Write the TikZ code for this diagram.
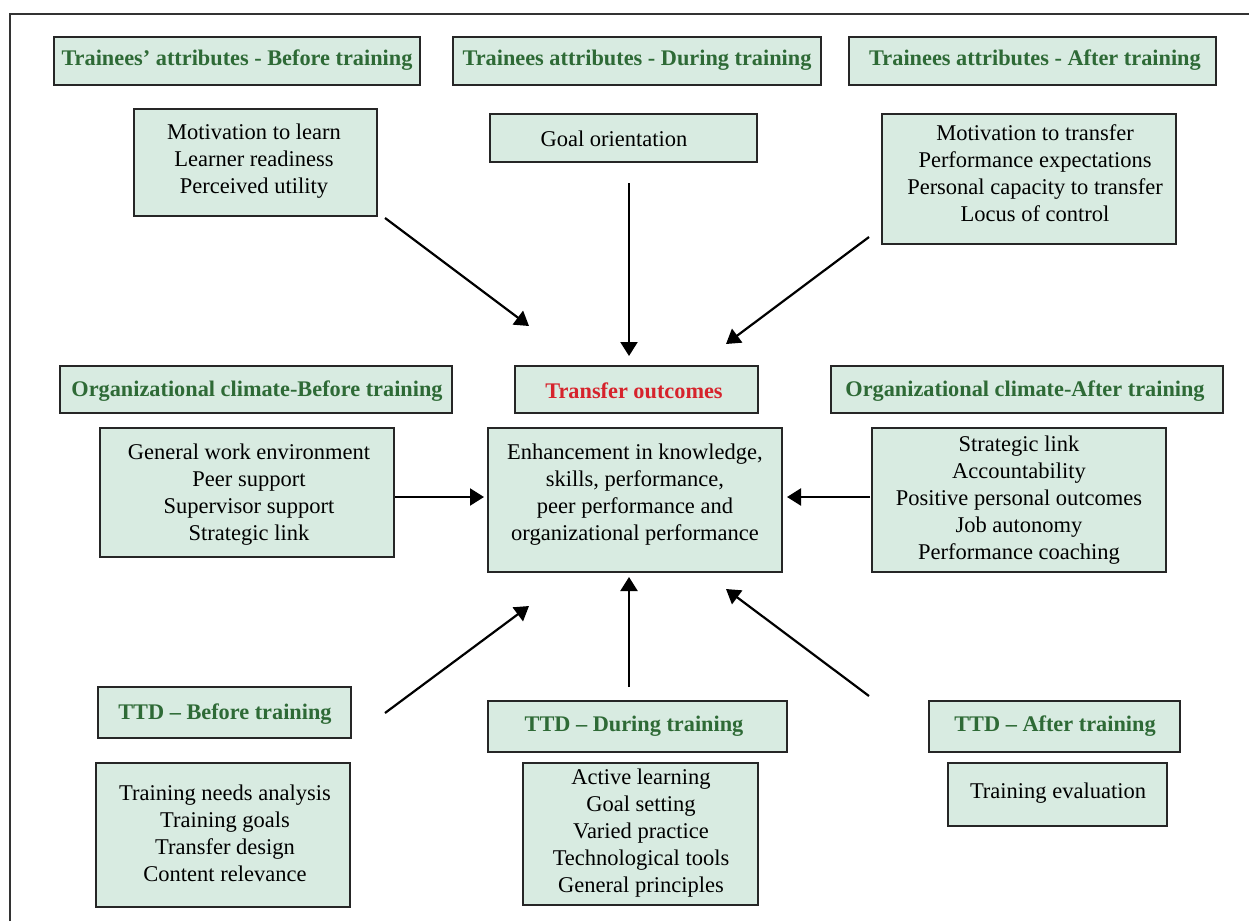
\documentclass[tikz,border=0pt]{standalone}
\usepackage{fontspec}
\setmainfont{Liberation Serif}
\usetikzlibrary{arrows.meta,calc}
\definecolor{boxfill}{HTML}{D8EBE1}
\definecolor{headgreen}{HTML}{2E6A36}
\definecolor{headred}{HTML}{D6232C}

\tikzset{
  panel/.style={draw=black!85, line width=1.3pt, fill=boxfill, inner sep=0pt},
  body/.style={align=center, font=\fontsize{22.5}{27}\selectfont, inner sep=0pt},
  head/.style={align=center, font=\fontsize{22.3}{27}\selectfont\bfseries, text=headgreen, inner sep=0pt},
  flow/.style={line width=2.2pt, -{Triangle[length=14pt,width=17pt]}},
}

% \pbox{name}{x1}{y1}{x2}{y2}: a filled panel between two corners
\newcommand\pbox[5]{%
  \node[panel, minimum width={(#4-#2)*1pt}, minimum height={(#5-#3)*1pt}]
    (#1) at ({(#2+#4)/2},{(#3+#5)/2}) {};}

\begin{document}
\begin{tikzpicture}[x=1pt,y=-1pt]
\useasboundingbox (0,0) rectangle (1249,921);

% outer frame
\draw[line width=1.3pt, black!80] (10,921) -- (10,14) -- (1249,14);

% ---- trainees' attributes ----
\pbox{tabH}{54}{37}{420}{85}
\node[head] (tabHt) at (237,60) {Trainees’ attributes - Before training};
\pbox{tadH}{453}{37}{821}{85}
\node[head] (tadHt) at (637,60) {Trainees attributes - During training};
\pbox{taaH}{849}{37}{1216}{85}
\node[head] (taaHt) at (1035,60) {Trainees attributes - After training};

\pbox{tab}{134}{109}{377}{216}
\node[body] (tabt) at (254,161) {Motivation to learn\\Learner readiness\\Perceived utility};
\pbox{tad}{490}{114}{757}{162}
\node[body] (tadt) at (614,139) {Goal orientation};
\pbox{taa}{882}{114}{1176}{244}
\node[body] (taat) at (1035,173) {Motivation to transfer\\Performance expectations\\Personal capacity to transfer\\Locus of control};

% ---- organizational climate and outcomes ----
\pbox{ocbH}{60}{366}{452}{413}
\node[head] (ocbHt) at (257,391) {Organizational climate-Before training};
\pbox{toH}{515}{366}{758}{413}
\node[head, text=headred] (toHt) at (634,391) {Transfer outcomes};
\pbox{ocaH}{831}{366}{1223}{413}
\node[head] (ocaHt) at (1025,391) {Organizational climate-After training};

\pbox{ocb}{100}{428}{394}{557}
\node[body] (ocbt) at (249,495) {General work environment\\Peer support\\Supervisor support\\Strategic link};
\pbox{to}{488}{428}{782}{572}
\node[body] (tot) at (635,495) {Enhancement in knowledge,\\skills, performance,\\peer performance and\\organizational performance};
\pbox{oca}{872}{428}{1166}{572}
\node[body] (ocat) at (1019,500) {Strategic link\\Accountability\\Positive personal outcomes\\Job autonomy\\Performance coaching};

% ---- training transfer design ----
\pbox{ttbH}{98}{687}{351}{738}
\node[head] (ttbHt) at (225,714) {TTD – Before training};
\pbox{ttdH}{488}{701}{787}{752}
\node[head] (ttdHt) at (634,726) {TTD – During training};
\pbox{ttaH}{929}{701}{1180}{752}
\node[head] (ttaHt) at (1055,726) {TTD – After training};

\pbox{ttb}{96}{763}{350}{907}
\node[body] (ttbt) at (225,833) {Training needs analysis\\Training goals\\Transfer design\\Content relevance};
\pbox{ttd}{523}{763}{758}{905}
\node[body] (ttdt) at (641,833) {Active learning\\Goal setting\\Varied practice\\Technological tools\\General principles};
\pbox{tta}{948}{763}{1167}{826}
\node[body] (ttat) at (1058,793) {Training evaluation};

% ---- arrows towards the outcomes ----
\coordinate (a1s) at (385,218);  \coordinate (a1e) at (529,326);
\coordinate (a2s) at (629,183);  \coordinate (a2e) at (629,356);
\coordinate (a3s) at (869,237);  \coordinate (a3e) at (726,344);
\coordinate (a4s) at (395,497);  \coordinate (a4e) at (484,497);
\coordinate (a5s) at (870,497);  \coordinate (a5e) at (787,497);
\coordinate (a6s) at (385,713);  \coordinate (a6e) at (529,606);
\coordinate (a7s) at (629,687);  \coordinate (a7e) at (629,577);
\coordinate (a8s) at (869,696);  \coordinate (a8e) at (726,589);

\foreach \k in {1,...,8} \draw[flow] (a\k s) -- (a\k e);
\end{tikzpicture}
\end{document}
